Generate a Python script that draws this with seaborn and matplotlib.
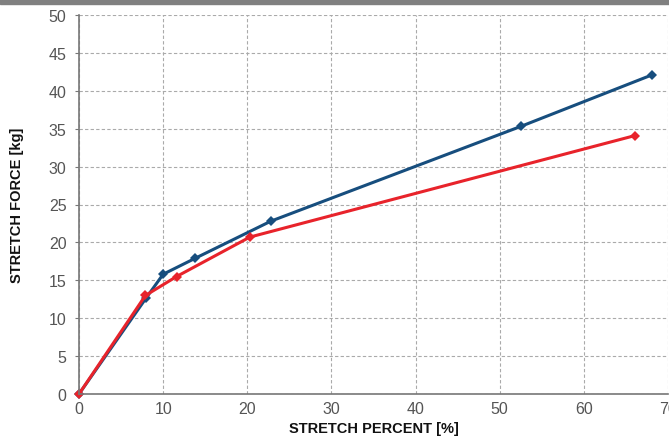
import numpy as np
import pandas as pd
import matplotlib.pyplot as plt
import seaborn as sns
from matplotlib.patches import Rectangle

# values
blue_x = [0, 8.0, 10.0, 13.8, 22.8, 52.5, 68.1]
blue_y = [0, 12.7, 15.8, 17.9, 22.8, 35.3, 42.1]
red_x = [0, 7.9, 11.6, 20.3, 66.1]
red_y = [0, 13.0, 15.5, 20.7, 34.1]
x_ticks = [0, 10, 20, 30, 40, 50, 60, 70]
y_ticks = [0, 5, 10, 15, 20, 25, 30, 35, 40, 45, 50]

df = pd.concat([
    pd.DataFrame({"x": blue_x, "y": blue_y, "series": "blue"}),
    pd.DataFrame({"x": red_x, "y": red_y, "series": "red"}),
])

sns.set_style("white")
plt.rcParams['font.family'] = ['Liberation Sans Narrow', 'Liberation Sans', 'DejaVu Sans']

fig = plt.figure(figsize=(6.69, 4.39), dpi=100)
ax = fig.add_axes([79 / 669, 44 / 439, 589 / 669, 379 / 439])

sns.lineplot(data=df, x="x", y="y", hue="series", sort=False,
             palette={"blue": "#174e7e", "red": "#e8232b"},
             marker="D", markersize=5, markeredgewidth=0, linewidth=2.2,
             legend=False, ax=ax, clip_on=False)

ax.set_xlim(0, 70)
ax.set_ylim(0, 50)
ax.set_xticks(x_ticks)
ax.set_yticks(y_ticks)
ax.grid(True, linestyle=(0, (3, 2)), color="#aaaaaa", linewidth=0.8)
ax.set_axisbelow(True)

for s in ["top", "right"]:
    ax.spines[s].set_visible(False)
for s in ["left", "bottom"]:
    ax.spines[s].set_color("#777777")
    ax.spines[s].set_linewidth(1.2)

ax.tick_params(axis="y", length=3, color="#777777", labelsize=11.5,
               labelcolor="#555555", pad=6, left=True)
ax.tick_params(axis="x", length=0, labelsize=11.5, labelcolor="#555555", pad=5)

ax.set_xlabel("STRETCH PERCENT [%]", fontsize=10.5, fontweight="bold",
              color="#111111", labelpad=4)
ax.set_ylabel("STRETCH FORCE [kg]", fontsize=10.5, fontweight="bold",
              color="#111111", labelpad=18)

fig.patches.append(Rectangle((0, 1 - 5 / 439), 1, 5 / 439,
                             transform=fig.transFigure, color="#808080",
                             zorder=10))

fig.savefig("out.png", dpi=100)
